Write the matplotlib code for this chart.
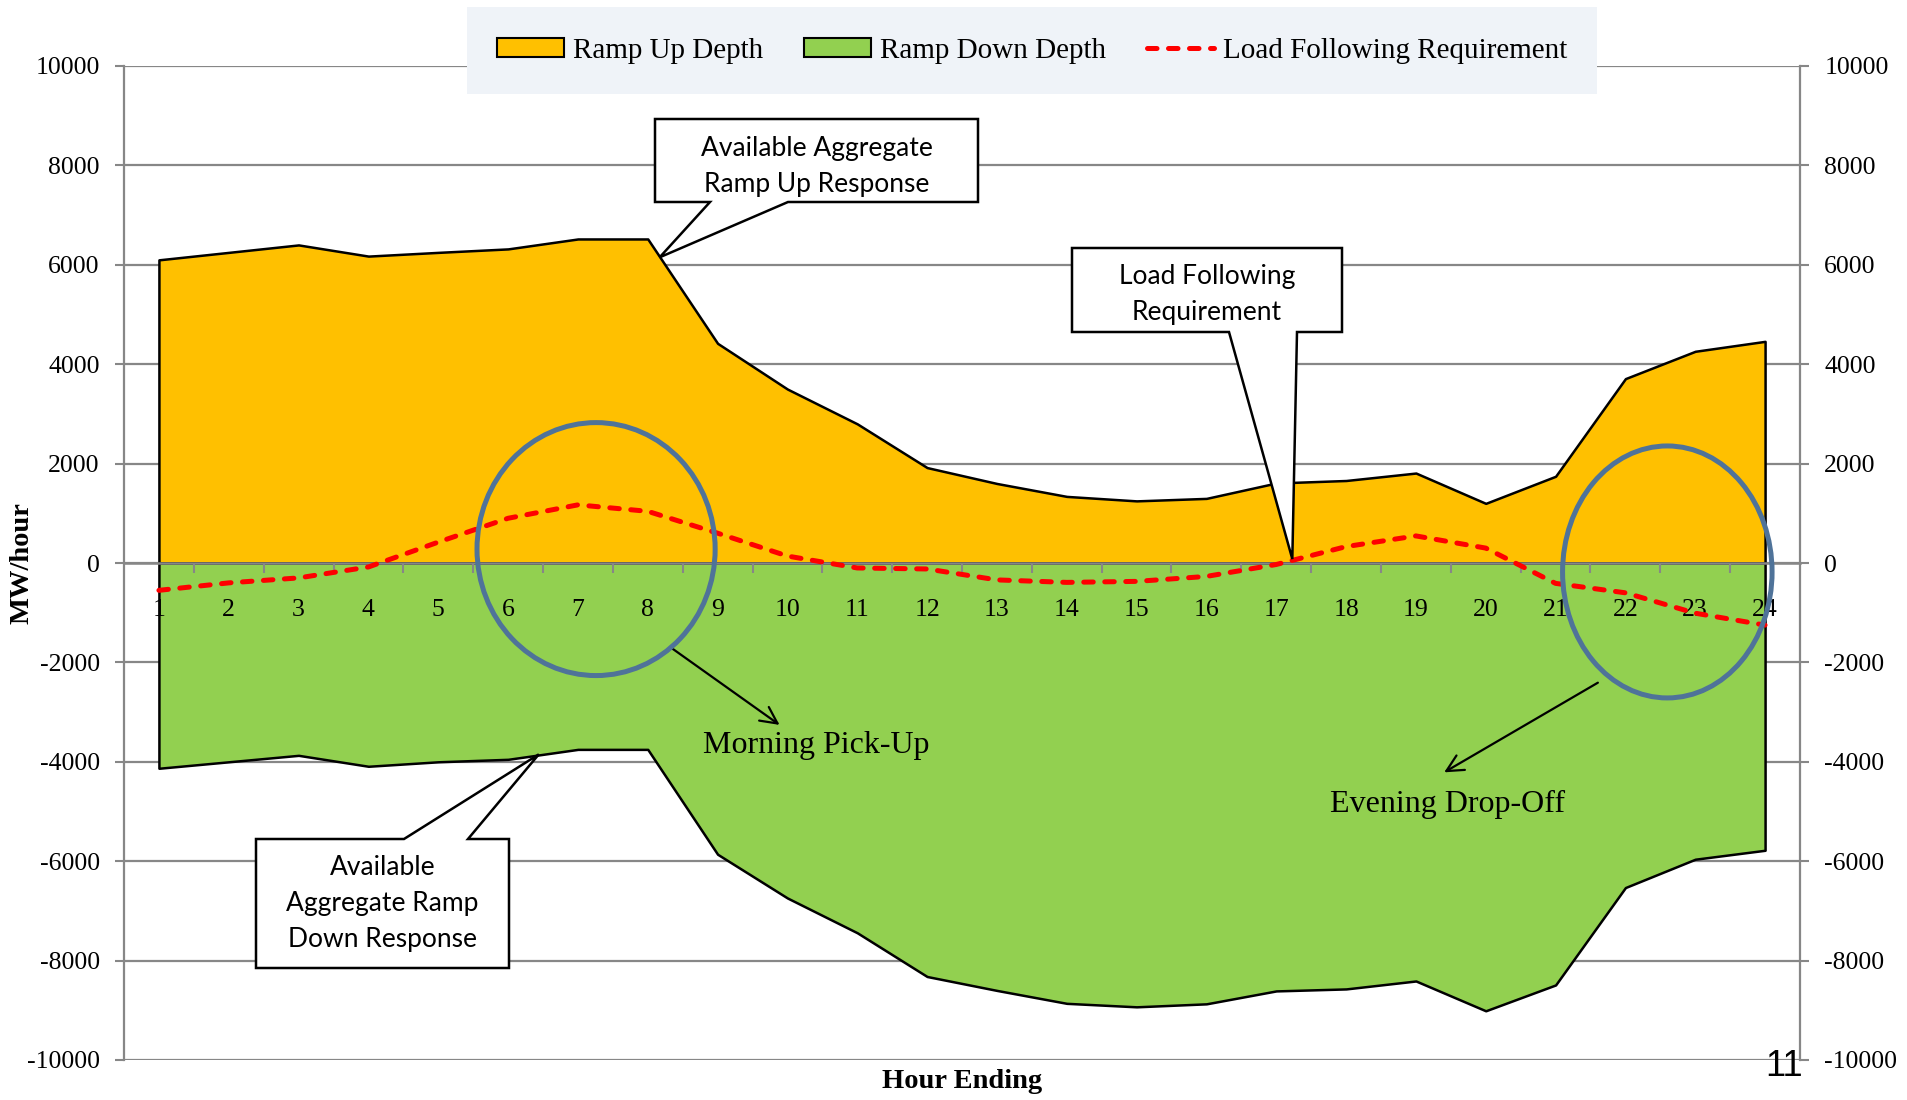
import numpy as np
import matplotlib
matplotlib.use("Agg")
import matplotlib.pyplot as plt
from matplotlib.patches import Patch, Ellipse, Polygon
from matplotlib.lines import Line2D

# Data
hours = list(range(1, 25))
ramp_up = [6100, 6250, 6400, 6175, 6250, 6320, 6520, 6520, 4420, 3500, 2800, 1920,
           1600, 1340, 1250, 1300, 1610, 1660, 1810, 1200, 1745, 3710, 4260, 4460]
ramp_down = [-4130, -4000, -3870, -4090, -4000, -3950, -3750, -3750, -5860, -6740, -7440, -8320,
             -8600, -8860, -8930, -8870, -8610, -8570, -8410, -9010, -8490, -6530, -5960, -5780]
load_follow = [-550, -400, -300, -80, 420, 900, 1170, 1040, 600, 140, -100, -120,
               -340, -390, -370, -270, -30, 330, 545, 300, -410, -600, -1010, -1250]
y_ticks = list(range(-10000, 10001, 2000))

W, H = 1907, 1100
SERIF = ["Liberation Serif", "DejaVu Serif"]
SANS = ["Lato", "DejaVu Sans"]
GRAY = "#878787"

plt.rcParams["font.family"] = SERIF

fig = plt.figure(figsize=(W / 100, H / 100), dpi=100)
ax = fig.add_axes([124 / W, 1 - 1060 / H, (1800 - 124) / W, (1060 - 66) / H])

# gridlines behind the areas, tick labels stay on top
for v in y_ticks:
    ax.axhline(v, color=GRAY, lw=1.6, zorder=0.5)

# areas
ax.fill_between(hours, 0, ramp_up, facecolor="#FFC000", edgecolor="black", lw=1.8, zorder=1)
ax.fill_between(hours, 0, ramp_down, facecolor="#92D050", edgecolor="black", lw=1.8, zorder=1)
ax.plot(hours, load_follow, color="#FF0000", lw=3.6, dashes=(1.9, 2.3),
        dash_capstyle="round", zorder=4)

ax.set_xlim(0.5, 24.5)
ax.set_ylim(-10000, 10000)

# x axis sits on zero
ax.spines["bottom"].set_position(("data", 0))
ax.spines["bottom"].set_color(GRAY)
ax.spines["bottom"].set_linewidth(1.8)
ax.spines["bottom"].set_zorder(3)
ax.spines["left"].set_color(GRAY)
ax.spines["left"].set_linewidth(1.6)
ax.spines["top"].set_visible(False)
ax.spines["right"].set_visible(False)

ax.set_xticks(hours)
ax.set_xticklabels([str(h) for h in hours], fontsize=18.5)
ax.set_xticks([h + 0.5 for h in hours[:-1]], minor=True)
ax.tick_params(axis="x", which="major", length=0, pad=26)
ax.tick_params(axis="x", which="minor", length=7, width=1.5, color=GRAY, direction="out")

ax.set_yticks(y_ticks)
ax.set_yticklabels([str(v) for v in y_ticks], fontsize=18.5)
ax.tick_params(axis="y", length=6.5, width=1.5, color=GRAY, pad=11)

ax2 = ax.twinx()
ax2.set_ylim(-10000, 10000)
ax2.set_yticks(y_ticks)
ax2.set_yticklabels([str(v) for v in y_ticks], fontsize=18.5)
ax2.tick_params(axis="y", length=6.5, width=1.5, color=GRAY, pad=11)
for s in ["top", "bottom", "left"]:
    ax2.spines[s].set_visible(False)
ax2.spines["right"].set_color(GRAY)
ax2.spines["right"].set_linewidth(1.6)

fig.text(22 / W, 1 - 563 / H, "MW/hour", rotation=90, ha="center", va="center",
         fontsize=20.5, fontweight="bold")
fig.text(962 / W, 1 - 1082 / H, "Hour Ending", ha="center", va="center",
         fontsize=20.5, fontweight="bold")
fig.text(1784 / W, 1 - 1066 / H, "11", ha="center", va="center", fontsize=26,
         family=["Liberation Sans Narrow", "Liberation Sans"])

# legend
handles = [Patch(facecolor="#FFC000", edgecolor="black", lw=1.5),
           Patch(facecolor="#92D050", edgecolor="black", lw=1.5),
           Line2D([], [], color="#FF0000", lw=3.6, dashes=(1.9, 2.3), dash_capstyle="round")]
leg = fig.legend(handles, ["Ramp Up Depth", "Ramp Down Depth", "Load Following Requirement"],
                 loc="center", bbox_to_anchor=(1032 / W, 1 - 50.5 / H), ncol=3,
                 fontsize=21, frameon=True, fancybox=False, framealpha=1,
                 facecolor="#EFF3F8", edgecolor="none", handlelength=2.3,
                 handleheight=0.65, handletextpad=0.3, columnspacing=1.4, borderpad=1.05)


def to_fig(xd, yd):
    disp = ax.transData.transform((xd, yd))
    return fig.transFigure.inverted().transform(disp)


def px(x, y):
    return (x / W, 1 - y / H)


def callout(box, legs, tip, text, side="bottom", dy=4):
    x0, y0, x1, y1 = box
    tx, ty = to_fig(*tip)
    if side == "bottom":
        pts = [px(x0, y0), px(x1, y0), px(x1, y1), px(legs[1], y1), (tx, ty),
               px(legs[0], y1), px(x0, y1)]
    else:
        pts = [px(x0, y0), px(legs[0], y0), (tx, ty), px(legs[1], y0), px(x1, y0),
               px(x1, y1), px(x0, y1)]
    fig.patches.append(Polygon(pts, closed=True, facecolor="white", edgecolor="black",
                               lw=1.8, transform=fig.transFigure, zorder=5))
    cx, cy = px((x0 + x1) / 2, (y0 + y1) / 2 + dy)
    fig.text(cx, cy, text, ha="center", va="center", fontsize=19, family=SANS,
             linespacing=1.55, zorder=6)


callout((655, 119, 978, 202), (710, 788), (8.17, 6150),
        "Available Aggregate\nRamp Up Response", dy=6)
callout((1072, 248, 1342, 332), (1229, 1297), (17.23, 80),
        "Load Following\nRequirement", dy=4)
callout((256, 839, 509, 968), (404, 468), (6.44, -3850),
        "Available\nAggregate Ramp\nDown Response", side="top", dy=0)

# circled regions
ax.add_patch(Ellipse((7.26, 280), 3.41, 5090, fill=False, edgecolor="#4F7399", lw=3.6, zorder=5))
ax.add_patch(Ellipse((22.6, -180), 3.0, 5070, fill=False, edgecolor="#4F7399", lw=3.6, zorder=5))

ax.annotate("", xy=(9.92, -3290), xytext=(8.31, -1680),
            arrowprops=dict(arrowstyle="->", color="black", lw=1.6, mutation_scale=30))
ax.text(10.42, -3680, "Morning Pick-Up", ha="center", va="center", fontsize=23)
ax.annotate("", xy=(19.37, -4240), xytext=(21.64, -2380),
            arrowprops=dict(arrowstyle="->", color="black", lw=1.6, mutation_scale=30))
ax.text(19.46, -4850, "Evening Drop-Off", ha="center", va="center", fontsize=23)

fig.savefig("out.png", dpi=100)
